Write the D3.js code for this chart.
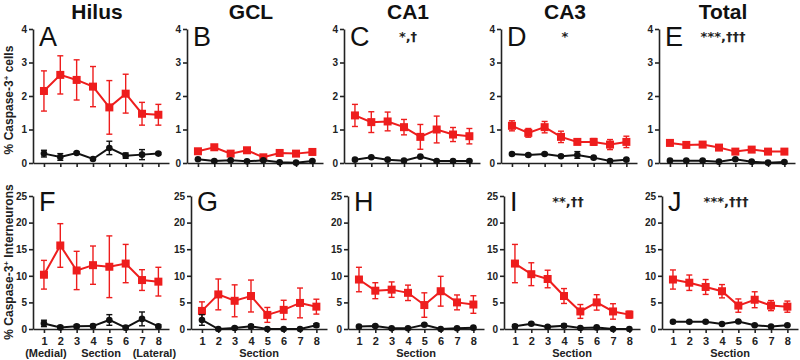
<!DOCTYPE html>
<html>
<head>
<meta charset="utf-8">
<script src="https://cdn.jsdelivr.net/npm/d3@7"></script>
<style>
    body { margin: 0; background: #fff; }
    svg { font-family: 'Liberation Sans', Arial, sans-serif; }
    .axis path, .axis line { stroke: #222; stroke-width: 1.6; }
    .axis text { font-size: 10px; font-weight: bold; fill: #222; }
    .xaxis text { font-size: 11px; }
    .stats { font-family: 'DejaVu Sans', sans-serif; }
</style>
</head>
<body>
<div id="chart"></div>
<script>

// data

var sections = [ 1, 2, 3, 4, 5, 6, 7, 8 ];
var regions = [ 'Hilus', 'GCL', 'CA1', 'CA3', 'Total' ];
var topLetters = [ 'A', 'B', 'C', 'D', 'E' ];
var bottomLetters = [ 'F', 'G', 'H', 'I', 'J' ];
var topStats = [ '', '', '*,\u2020', '*', '***,\u2020\u2020\u2020' ];
var bottomStats = [ '', '', '', '**,\u2020\u2020', '***,\u2020\u2020\u2020' ];
var topTicks = [ 0, 1, 2, 3, 4 ];
var bottomTicks = [ 0, 5, 10, 15, 20, 25 ];

// % caspase-3+ cells (top row), one array per region
var cellsRed = [
    [ 2.15, 2.63, 2.48, 2.28, 1.66, 2.07, 1.47, 1.44 ],
    [ 0.35, 0.47, 0.28, 0.38, 0.17, 0.30, 0.28, 0.33 ],
    [ 1.42, 1.22, 1.24, 1.07, 0.78, 1.00, 0.85, 0.80 ],
    [ 1.11, 0.90, 1.07, 0.78, 0.63, 0.63, 0.55, 0.63 ],
    [ 0.60, 0.54, 0.55, 0.46, 0.34, 0.40, 0.34, 0.34 ]
];
var cellsRedErr = [
    [ 0.60, 0.57, 0.60, 0.60, 0.80, 0.58, 0.34, 0.31 ],
    [ 0.06, 0.05, 0.05, 0.05, 0.05, 0.08, 0.06, 0.08 ],
    [ 0.33, 0.31, 0.28, 0.23, 0.37, 0.40, 0.21, 0.23 ],
    [ 0.15, 0.13, 0.17, 0.17, 0.07, 0.10, 0.15, 0.17 ],
    [ 0.08, 0.07, 0.08, 0.05, 0.06, 0.07, 0.04, 0.04 ]
];
var cellsBlack = [
    [ 0.28, 0.18, 0.30, 0.12, 0.45, 0.22, 0.25, 0.28 ],
    [ 0.11, 0.06, 0.08, 0.05, 0.08, 0.02, 0.01, 0.06 ],
    [ 0.10, 0.17, 0.10, 0.07, 0.19, 0.06, 0.06, 0.06 ],
    [ 0.27, 0.24, 0.27, 0.20, 0.24, 0.16, 0.06, 0.10 ],
    [ 0.07, 0.07, 0.07, 0.04, 0.11, 0.04, 0.01, 0.03 ]
];
var cellsBlackErr = [
    [ 0.10, 0.10, 0.03, 0.03, 0.20, 0.08, 0.15, 0.03 ],
    [ 0.02, 0.02, 0.02, 0.02, 0.02, 0.02, 0.02, 0.02 ],
    [ 0.02, 0.02, 0.02, 0.02, 0.02, 0.02, 0.02, 0.02 ],
    [ 0.03, 0.03, 0.03, 0.03, 0.10, 0.03, 0.03, 0.03 ],
    [ 0.02, 0.02, 0.02, 0.02, 0.02, 0.02, 0.02, 0.02 ]
];

// % caspase-3+ interneurons (bottom row)
var intRed = [
    [ 10.2, 15.7, 11.0, 12.0, 11.7, 12.3, 9.2, 8.9 ],
    [ 3.4, 6.5, 5.3, 6.2, 2.65, 3.6, 4.9, 4.2 ],
    [ 9.3, 7.2, 7.4, 6.8, 4.5, 7.1, 5.0, 4.6 ],
    [ 12.3, 10.3, 9.4, 6.2, 3.3, 5.0, 3.3, 2.7 ],
    [ 9.3, 8.7, 7.9, 7.1, 4.4, 5.5, 4.4, 4.2 ]
];
var intRedErr = [
    [ 2.7, 4.1, 3.6, 3.6, 5.8, 3.6, 1.95, 2.7 ],
    [ 1.7, 2.9, 3.0, 3.0, 1.4, 1.8, 2.8, 1.4 ],
    [ 2.3, 1.5, 1.45, 1.45, 2.3, 2.8, 1.4, 1.65 ],
    [ 3.6, 2.15, 1.65, 1.4, 1.3, 1.45, 1.45, 0.65 ],
    [ 1.8, 1.45, 1.4, 1.25, 1.25, 1.5, 0.95, 1.05 ]
];
var intBlack = [
    [ 1.05, 0.3, 0.5, 0.55, 1.7, 0.25, 1.9, 0.5 ],
    [ 1.7, 0.0, 0.2, 0.5, 0.0, 0.0, 0.0, 0.7 ],
    [ 0.45, 0.55, 0.12, 0.12, 0.8, 0.0, 0.12, 0.25 ],
    [ 0.5, 1.0, 0.4, 0.6, 0.2, 0.3, 0.0, 0.0 ],
    [ 1.35, 1.35, 1.35, 0.95, 1.4, 0.7, 0.45, 0.7 ]
];
var intBlackErr = [
    [ 0.6, 0.3, 0.3, 0.3, 1.0, 0.2, 1.3, 0.3 ],
    [ 1.0, 0.0, 0.2, 0.3, 0.0, 0.0, 0.0, 0.3 ],
    [ 0.2, 0.2, 0.1, 0.1, 0.2, 0.0, 0.1, 0.1 ],
    [ 0.3, 0.2, 0.2, 0.3, 0.1, 0.1, 0.0, 0.0 ],
    [ 0.15, 0.15, 0.15, 0.15, 0.15, 0.15, 0.15, 0.15 ]
];

var red = '#ee1d1d';
var black = '#111';

var width = 800,
    height = 360,
    plotWidth = 136;

var svg = d3.select('#chart').append('svg')
    .attr('width', width)
    .attr('height', height);

var x = d3.scaleLinear()
    .domain([ 0.33, 8.65 ])
    .range([ 0, plotWidth ]);

function drawSeries ( g, y, values, errs, color, square ) {

    var pts = sections.map( function ( s, i ) {
        return { s: s, v: values[ i ], e: errs[ i ] };
    });

    var bars = g.append('g');

    bars.selectAll('.err')
        .data( pts )
        .enter().append('line')
        .attr('x1', function ( d ) { return x( d.s ) })
        .attr('x2', function ( d ) { return x( d.s ) })
        .attr('y1', function ( d ) { return y( d.v + d.e ) })
        .attr('y2', function ( d ) { return y( Math.max( 0, d.v - d.e ) ) })
        .style('stroke', color)
        .style('stroke-width', 1.4);

    [ 1, -1 ].forEach( function ( sign ) {

        bars.selectAll('.cap' + sign)
            .data( pts.filter( function ( d ) { return d.e > 0 } ) )
            .enter().append('line')
            .attr('x1', function ( d ) { return x( d.s ) - 3 })
            .attr('x2', function ( d ) { return x( d.s ) + 3 })
            .attr('y1', function ( d ) { return y( Math.max( 0, d.v + sign * d.e ) ) })
            .attr('y2', function ( d ) { return y( Math.max( 0, d.v + sign * d.e ) ) })
            .style('stroke', color)
            .style('stroke-width', 1.4);

    });

    var line = d3.line()
        .x( function ( d ) { return x( d.s ) })
        .y( function ( d ) { return y( d.v ) });

    g.append('path')
        .datum( pts )
        .attr('d', line)
        .style('fill', 'none')
        .style('stroke', color)
        .style('stroke-width', 2);

    if ( square ) {

        g.selectAll('.sq')
            .data( pts )
            .enter().append('rect')
            .attr('x', function ( d ) { return x( d.s ) - 4 })
            .attr('y', function ( d ) { return y( d.v ) - 4 })
            .attr('width', 8)
            .attr('height', 8)
            .style('fill', color);

    } else {

        g.selectAll('.dot')
            .data( pts )
            .enter().append('circle')
            .attr('cx', function ( d ) { return x( d.s ) })
            .attr('cy', function ( d ) { return y( d.v ) })
            .attr('r', 3.3)
            .style('fill', color);

    }

}

function drawRow ( row ) {

    var top = row === 0;
    var axisX = top ? [ 33, 187, 344, 501, 659 ] : [ 33, 191, 348, 504, 662 ];
    var y0 = top ? 163 : 329,
        y1 = top ? 29 : 196;
    var ticks = top ? topTicks : bottomTicks;
    var letters = top ? topLetters : bottomLetters;
    var stats = top ? topStats : bottomStats;

    var y = d3.scaleLinear()
        .domain([ 0, ticks[ ticks.length - 1 ] ])
        .range([ y0, y1 ]);

    regions.forEach( function ( region, r ) {

        var g = svg.append('g')
            .attr('transform', 'translate(' + axisX[ r ] + ',0)');

        g.append('g')
            .attr('class', 'axis')
            .call( d3.axisLeft( y ).tickValues( ticks ).tickSize( 4 ).tickSizeOuter( 0 ).tickPadding( 2 )
                .tickFormat( d3.format('d') ) );

        g.append('g')
            .attr('class', 'axis xaxis')
            .attr('transform', 'translate(0,' + y0 + ')')
            .call( d3.axisBottom( x ).tickValues( sections ).tickSize( 4 ).tickSizeOuter( 0 ).tickPadding( 4 )
                .tickFormat( top ? '' : d3.format('d') ) );

        if ( top ) {
            drawSeries( g, y, cellsRed[ r ], cellsRedErr[ r ], red, true );
            drawSeries( g, y, cellsBlack[ r ], cellsBlackErr[ r ], black, false );
        } else {
            drawSeries( g, y, intRed[ r ], intRedErr[ r ], red, true );
            drawSeries( g, y, intBlack[ r ], intBlackErr[ r ], black, false );
        }

        // panel letter
        g.append('text')
            .attr('x', 6)
            .attr('y', top ? 46 : 211)
            .style('font-size', '27px')
            .style('fill', '#111')
            .text( letters[ r ] );

        g.append('text')
            .attr('class', 'stats')
            .attr('x', 64)
            .attr('y', top ? 41 : 206)
            .attr('text-anchor', 'middle')
            .style('font-size', '13px')
            .style('font-weight', 'bold')
            .style('fill', '#222')
            .text( stats[ r ] );

        if ( top ) {

            g.append('text')
                .attr('x', 64)
                .attr('y', 19)
                .attr('text-anchor', 'middle')
                .style('font-size', '21px')
                .style('font-weight', 'bold')
                .style('fill', '#111')
                .text( region );

        } else {

            g.append('text')
                .attr('x', 68)
                .attr('y', 357)
                .attr('text-anchor', 'middle')
                .style('font-size', '11px')
                .style('font-weight', 'bold')
                .style('fill', '#222')
                .text('Section');

            if ( r === 0 ) {

                g.append('text')
                    .attr('x', x( 1 ) + 2)
                    .attr('y', 357)
                    .attr('text-anchor', 'middle')
                    .style('font-size', '11px')
                    .style('font-weight', 'bold')
                    .style('fill', '#222')
                    .text('(Medial)');

                g.append('text')
                    .attr('x', x( 8 ) - 4)
                    .attr('y', 357)
                    .attr('text-anchor', 'middle')
                    .style('font-size', '11px')
                    .style('font-weight', 'bold')
                    .style('fill', '#222')
                    .text('(Lateral)');

            }

        }

    });

    // y axis title
    var title = svg.append('text')
        .attr('transform', 'translate(13,' + ( top ? 100 : 262 ) + ') rotate(-90)')
        .attr('text-anchor', 'middle')
        .style('font-size', '12px')
        .style('font-weight', 'bold')
        .style('fill', '#222');

    title.append('tspan').text('% Caspase-3');
    title.append('tspan').attr('dy', -4).style('font-size', '8px').text('+');
    title.append('tspan').attr('dy', 4).text( top ? ' cells' : ' Interneurons' );

}

drawRow( 0 );
drawRow( 1 );

</script>
</body>
</html>
